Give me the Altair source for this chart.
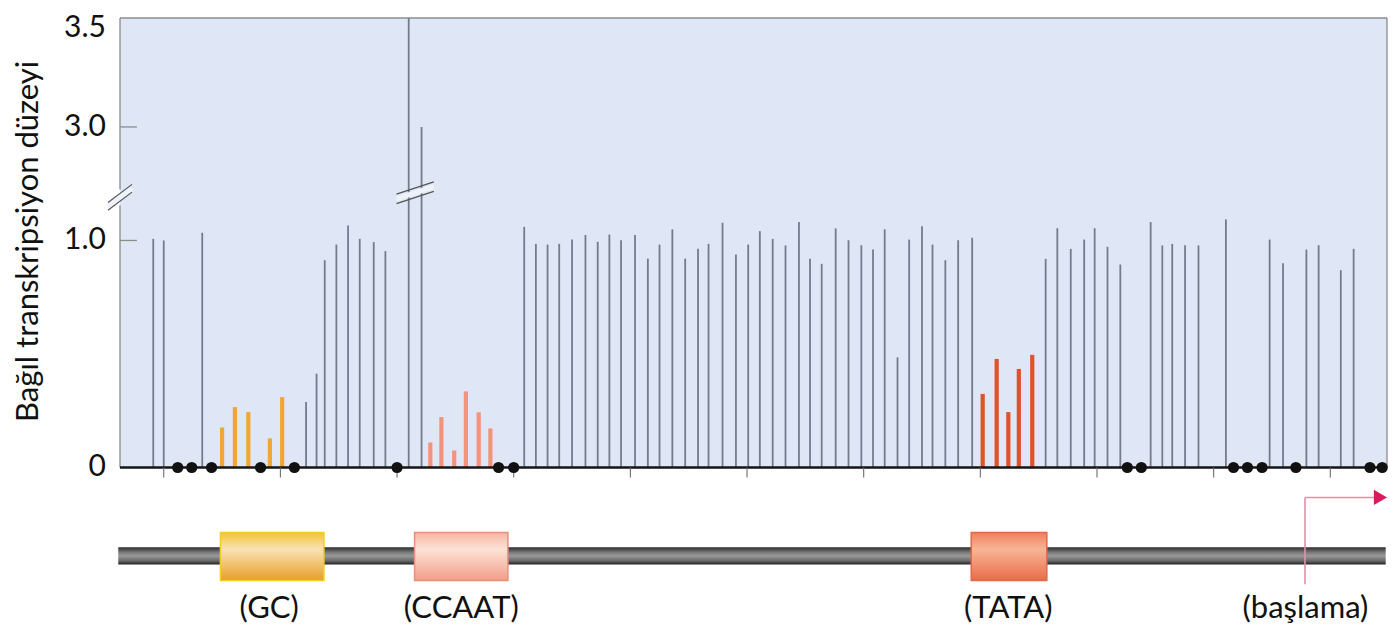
import altair as alt
import pandas as pd

# ---------------- data ----------------
# linker-scanning mutation positions (bp relative to tick 0) and relative transcription level
bar_pos = [-100.9, -100.0, -96.7, -95.0, -93.9, -92.75, -90.9, -89.85, -87.8, -86.9, -86.2, -85.2,
           -84.2, -83.2, -82.0, -81.0, -79.0, -77.9,
           -77.15, -76.2, -75.1, -74.1, -73.0, -72.0,
           -69.1, -68.1, -67.1, -66.1, -65.0, -63.85, -62.8, -61.8, -60.8, -59.6, -58.5, -57.5,
           -56.4, -55.3, -54.2, -53.3, -52.1, -50.95, -49.9, -48.9, -47.8, -46.7, -45.55, -44.6,
           -43.6, -42.4, -41.3, -40.2, -39.2, -38.2, -37.1, -36.1, -35.0, -34.1, -33.0, -31.9, -30.7,
           -29.8, -28.6, -27.6, -26.7, -25.55,
           -24.4, -23.4, -22.25, -21.1, -20.2, -19.1, -18.0, -15.4, -14.4, -13.55, -12.45, -11.3,
           -8.95, -5.2, -4.05, -2.05, -1.0, 0.9, 2.0]
bar_val = [1.007, 1.0, 1.034, 0.176, 0.266, 0.244, 0.128, 0.31, 0.288, 0.413, 0.913, 0.982,
           1.066, 1.007, 0.993, 0.953, 3.5, 3.0,
           0.11, 0.222, 0.075, 0.335, 0.243, 0.172,
           1.06, 0.985, 0.982, 0.985, 1.004, 1.024, 0.994, 1.026, 1.001, 1.024, 0.92, 0.982,
           1.049, 0.92, 0.963, 0.985, 1.078, 0.938, 0.982, 1.041, 1.007, 0.978, 1.081, 0.919,
           0.897, 1.053, 1.001, 0.979, 0.96, 1.049, 0.485, 1.004, 1.063, 0.982, 0.913, 1.001, 1.012,
           0.324, 0.478, 0.244, 0.434, 0.496,
           0.919, 1.054, 0.963, 1.004, 1.054, 0.972, 0.894, 1.081, 0.978, 0.985, 0.979, 0.978,
           1.093, 1.004, 0.9, 0.96, 0.979, 0.869, 0.963]
bar_grp = (["n", "n", "n", "GC", "GC", "GC", "GC", "GC", "n", "n", "n", "n",
            "n", "n", "n", "n", "n", "n"]
           + ["CCAAT"] * 6
           + ["n"] * 37
           + ["TATA"] * 5
           + ["n"] * 19)
# mutations with no transcription (black dots on the axis)
dot_pos = [-98.8, -97.6, -95.9, -91.7, -88.8, -80.0, -71.3, -70.0, -17.4, -16.2,
           -8.3, -7.1, -5.85, -2.95, 3.4, 4.45]
tick_pos = [-100, -90, -80, -70, -60, -50, -40, -30, -20, -10, 0]

# y axis (broken scale): label positions and labels
ytick_val = [0.0, 1.0, 3.0, 3.455]
ytick_lab = ["0", "1.0", "3.0", "3.5"]
y_title = "Bağıl transkripsiyon düzeyi"

# promoter elements (start, end in bp) and labels
box_names = ["GC", "CCAAT", "TATA"]
box_start = [-95.14, -78.5, -30.78]
box_end = [-86.27, -70.5, -24.3]
label_text = ["(GC)", "(CCAAT)", "(TATA)", "(başlama)"]
label_pos = [-90.96, -74.5, -27.6, -2.13]
start_site = -2.17

# ---------------- layout constants ----------------
X_MIN, X_MAX = -103.75, 4.86
Y_MIN, Y_TOP = -0.716, 1.98
DNA_Y0, DNA_Y1 = -0.352, -0.427
BOX_Y0, BOX_Y1 = -0.286, -0.498
LABEL_Y = -0.625
FONT = "Lato"
COLORS = {"n": "#737b8c", "GC": "#f0a834", "CCAAT": "#f4937b", "TATA": "#e0522a"}

XS = alt.Scale(domain=[X_MIN, X_MAX], nice=False, zero=False)
YS = alt.Scale(domain=[Y_MIN, Y_TOP], nice=False, zero=False)


def X(f):
    return alt.X(f, type="quantitative", scale=XS, axis=None)


def Y(f):
    return alt.Y(f, type="quantitative", scale=YS, axis=None)


disp = "datum.val <= 1.5 ? datum.val : 1.5 + (datum.val - 3) * 0.96"

# background of the plot area
bg = alt.Chart(pd.DataFrame({"x0": [X_MIN], "x1": [X_MAX], "y0": [0.0], "y1": [Y_TOP]})).mark_rect(
    fill="#dfe6f5").encode(x=X("x0"), x2="x1", y=Y("y0"), y2="y1")

# plot borders (left border split by the axis break)
border_df = pd.DataFrame({
    "x0": [X_MIN, X_MAX, X_MIN, X_MIN],
    "x1": [X_MAX, X_MAX, X_MIN, X_MIN],
    "y0": [Y_TOP, 0.0, 0.0, 1.225],
    "y1": [Y_TOP, Y_TOP, 1.155, Y_TOP],
})
borders = alt.Chart(border_df).mark_rule(color="#8c8c8c", strokeWidth=1.3).encode(
    x=X("x0"), x2="x1", y=Y("y0"), y2="y1")

# bars
bars_df = pd.DataFrame({"pos": bar_pos, "val": bar_val, "grp": bar_grp})
bar_color = alt.Color("grp:N", scale=alt.Scale(domain=list(COLORS), range=list(COLORS.values())),
                      legend=None)
bars_grey = alt.Chart(bars_df).transform_filter("datum.grp == 'n'").transform_calculate(
    d=disp, z="0").mark_rule(strokeWidth=1.8).encode(x=X("pos"), y=Y("d"), y2="z:Q", color=bar_color)
bars_col = alt.Chart(bars_df).transform_filter("datum.grp != 'n'").transform_calculate(
    d=disp, z="0").mark_rule(strokeWidth=4.2).encode(x=X("pos"), y=Y("d"), y2="z:Q", color=bar_color)

# baseline
base = alt.Chart(pd.DataFrame({"x0": [X_MIN], "x1": [X_MAX], "y": [0.0]})).mark_rule(
    color="#151515", strokeWidth=2.6).encode(x=X("x0"), x2="x1", y=Y("y"))

# x ticks under the baseline
ticks = alt.Chart(pd.DataFrame({"pos": tick_pos})).transform_calculate(
    a="0", b="-0.044").mark_rule(color="#6e6e6e", strokeWidth=1.1).encode(
    x=X("pos"), y=Y("a"), y2="b:Q")

# y ticks (inward) at 1.0 and 3.0 and y labels
ytick_df = pd.DataFrame({"val": ytick_val, "lab": ytick_lab,
                         "x0": [X_MIN] * 4, "x1": [X_MIN + 1.45] * 4})
yticks = alt.Chart(ytick_df).transform_filter("datum.val > 0.5 && datum.val < 3.2").transform_calculate(
    d=disp).mark_rule(color="#8c8c8c", strokeWidth=1.3).encode(x=X("x0"), x2="x1", y=Y("d"))
ylabels = alt.Chart(ytick_df).transform_calculate(d=disp).mark_text(
    font=FONT, fontSize=30, color="#111111", align="right", baseline="middle", dx=-14).encode(
    x=X("x0"), y=Y("d"), text="lab:N")
ytitle = alt.Chart(pd.DataFrame({"x": [X_MIN], "y": [0.996], "t": [y_title]})).mark_text(
    font=FONT, fontSize=31, color="#111111", align="center", baseline="middle", angle=270, dy=-91).encode(
    x=X("x"), y=Y("y"), text="t:N")

# dots
dots = alt.Chart(pd.DataFrame({"pos": dot_pos, "y": [0.0] * len(dot_pos)})).mark_point(
    filled=True, shape="circle", size=125, color="#111111", opacity=1).encode(x=X("pos"), y=Y("y"))

# axis breaks
brk_cx = [X_MIN, -78.45]
brk_cy = [1.19, 1.21]
brk_hx = [1.03, 1.6]
brk_hy = [0.04, 0.027]
brk_off = [0.017, 0.021]
rows_w, rows_d = [], []
for cx, cy, hx, hy, off in zip(brk_cx, brk_cy, brk_hx, brk_hy, brk_off):
    rows_w.append({"x0": cx - hx, "x1": cx + hx, "y0": cy - hy, "y1": cy + hy})
    for s in (-1, 1):
        rows_d.append({"x0": cx - hx, "x1": cx + hx, "y0": cy - hy + s * off, "y1": cy + hy + s * off})
brk_white = alt.Chart(pd.DataFrame(rows_w)).mark_rule(color="#eef2fa", strokeWidth=5).encode(
    x=X("x0"), x2="x1", y=Y("y0"), y2="y1")
brk_dark = alt.Chart(pd.DataFrame(rows_d)).mark_rule(color="#555555", strokeWidth=1.2).encode(
    x=X("x0"), x2="x1", y=Y("y0"), y2="y1")

# DNA
dna_grad = alt.Gradient(gradient="linear", x1=0, x2=0, y1=0, y2=1, stops=[
    alt.GradientStop(color="#2e2e2e", offset=0),
    alt.GradientStop(color="#7a7a7a", offset=0.3),
    alt.GradientStop(color="#9a9a9a", offset=0.5),
    alt.GradientStop(color="#666666", offset=0.8),
    alt.GradientStop(color="#222222", offset=1)])
dna = alt.Chart(pd.DataFrame({"x0": [-103.9], "x1": [4.75], "y0": [DNA_Y0], "y1": [DNA_Y1]})).mark_rect(
    fill=dna_grad).encode(x=X("x0"), x2="x1", y=Y("y0"), y2="y1")

box_styles = {
    "GC": (["#f2c235", "#f8e2b4", "#e99e28"], "#f0cf1e"),
    "CCAAT": (["#f6b4a2", "#fde2d6", "#f19e88"], "#e8907c"),
    "TATA": (["#ef7f5c", "#f9b497", "#e76d49"], "#e06a48"),
}
box_layers = []
for name, s, e in zip(box_names, box_start, box_end):
    cols, stroke = box_styles[name]
    grad = alt.Gradient(gradient="linear", x1=0, x2=0, y1=0, y2=1, stops=[
        alt.GradientStop(color=cols[0], offset=0),
        alt.GradientStop(color=cols[1], offset=0.35),
        alt.GradientStop(color=cols[2], offset=1)])
    box_layers.append(
        alt.Chart(pd.DataFrame({"x0": [s], "x1": [e], "y0": [BOX_Y0], "y1": [BOX_Y1]})).mark_rect(
            fill=grad, stroke=stroke, strokeWidth=1.5).encode(x=X("x0"), x2="x1", y=Y("y0"), y2="y1"))

labels = alt.Chart(pd.DataFrame({"pos": label_pos, "t": label_text, "y": [LABEL_Y] * 4})).mark_text(
    font=FONT, fontSize=31, color="#111111", baseline="middle", align="center").encode(
    x=X("pos"), y=Y("y"), text="t:N")

# start-site arrow
arr_v = alt.Chart(pd.DataFrame({"x": [start_site], "y0": [-0.132], "y1": [-0.515]})).mark_rule(
    color="#e48fa8", strokeWidth=1.6).encode(x=X("x"), y=Y("y0"), y2="y1")
arr_h = alt.Chart(pd.DataFrame({"x0": [start_site], "x1": [3.9], "y": [-0.132]})).mark_rule(
    color="#e48fa8", strokeWidth=1.6).encode(x=X("x0"), x2="x1", y=Y("y"))
arr_head = alt.Chart(pd.DataFrame({"x": [4.3], "y": [-0.132]})).mark_point(
    shape="triangle-right", filled=True, size=230, color="#d81b5c", opacity=1).encode(x=X("x"), y=Y("y"))

chart = alt.layer(
    bg, borders, bars_grey, bars_col, base, ticks, yticks, brk_white, brk_dark, dots,
    ylabels, ytitle, dna, *box_layers, labels, arr_v, arr_h, arr_head
).properties(
    width=1267, height=612,
    background="white",
    autosize=alt.AutoSizeParams(type="none"),
    padding={"left": 112, "top": 10, "right": 2, "bottom": 0},
).configure_view(strokeWidth=0, stroke="transparent")

chart.save("out.html", embed_options={"renderer": "svg", "actions": False})
